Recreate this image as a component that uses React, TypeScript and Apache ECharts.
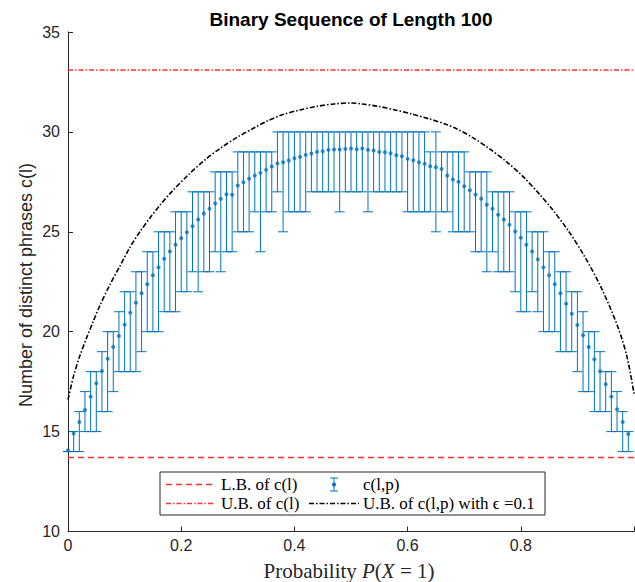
import React, { useEffect, useRef } from "react";
import * as echarts from "echarts";

// ---- data ----
const probabilities = [
  0, 0.01, 0.02, 0.03, 0.04, 0.05, 0.06, 0.07, 0.08, 0.09,
  0.1, 0.11, 0.12, 0.13, 0.14, 0.15, 0.16, 0.17, 0.18, 0.19,
  0.2, 0.21, 0.22, 0.23, 0.24, 0.25, 0.26, 0.27, 0.28, 0.29,
  0.3, 0.31, 0.32, 0.33, 0.34, 0.35, 0.36, 0.37, 0.38, 0.39,
  0.4, 0.41, 0.42, 0.43, 0.44, 0.45, 0.46, 0.47, 0.48, 0.49,
  0.5, 0.51, 0.52, 0.53, 0.54, 0.55, 0.56, 0.57, 0.58, 0.59,
  0.6, 0.61, 0.62, 0.63, 0.64, 0.65, 0.66, 0.67, 0.68, 0.69,
  0.7, 0.71, 0.72, 0.73, 0.74, 0.75, 0.76, 0.77, 0.78, 0.79,
  0.8, 0.81, 0.82, 0.83, 0.84, 0.85, 0.86, 0.87, 0.88, 0.89,
  0.9, 0.91, 0.92, 0.93, 0.94, 0.95, 0.96, 0.97, 0.98, 0.99,
];

const meanPhrases = [
  14.07, 14.9, 15.48, 16.08, 16.75, 17.42, 18.03, 18.65, 19.23, 19.78,
  20.35, 20.95, 21.45, 21.92, 22.38, 22.83, 23.22, 23.65, 24.02, 24.35,
  24.68, 24.98, 25.28, 25.62, 25.92, 26.15, 26.42, 26.65, 26.88, 26.85,
  27.32, 27.48, 27.66, 27.82, 27.95, 28.1, 28.27, 28.42, 28.48, 28.57,
  28.68, 28.75, 28.85, 28.92, 29.0, 29.03, 29.1, 29.12, 29.12, 29.15,
  29.17, 29.13, 29.17, 29.1, 29.07, 29.0, 28.98, 28.93, 28.83, 28.78,
  28.65, 28.58, 28.48, 28.4, 28.28, 28.23, 28.14, 27.82, 27.62, 27.5,
  27.28, 27.08, 26.87, 26.65, 26.35, 26.15, 25.85, 25.62, 25.35, 25.02,
  24.7, 24.35, 24.02, 23.62, 23.22, 22.82, 22.37, 21.92, 21.4, 20.9,
  20.33, 19.82, 19.23, 18.62, 18.02, 17.37, 16.75, 16.12, 15.48, 14.88,
];

const minPhrases = [
  14, 14, 14, 15, 15, 15, 16, 16, 17, 18,
  18, 18, 18, 19, 20, 20, 20, 21, 21, 21,
  22, 22, 23, 22, 23, 23, 24, 23, 24, 24,
  25, 25, 25, 26, 24, 26, 26, 27, 25, 26,
  26, 26, 26, 27, 27, 27, 27, 27, 26, 27,
  27, 27, 27, 26, 27, 27, 27, 27, 27, 27,
  26, 26, 26, 26, 26, 25, 26, 26, 25, 25,
  25, 25, 24, 24, 23, 24, 23, 23, 23, 22,
  21, 21, 22, 21, 20, 20, 20, 19, 19, 19,
  18, 17, 17, 16, 16, 16, 15, 15, 14, 14,
];

const maxPhrases = [
  14, 15, 16, 17, 18, 18, 19, 20, 20, 21,
  22, 22, 23, 23, 24, 24, 25, 25, 25, 26,
  26, 26, 27, 27, 27, 27, 28, 28, 28, 28,
  29, 29, 29, 29, 29, 29, 29, 30, 30, 30,
  30, 30, 30, 30, 30, 30, 30, 30, 30, 30,
  30, 30, 30, 30, 30, 30, 30, 30, 30, 30,
  30, 30, 30, 30, 29, 30, 29, 29, 29, 29,
  29, 28, 28, 28, 28, 27, 27, 27, 27, 26,
  26, 26, 25, 25, 25, 24, 24, 23, 23, 22,
  22, 21, 20, 20, 19, 18, 18, 17, 16, 15,
];

const boundP = [
  0, 0.01, 0.021, 0.033, 0.045, 0.057, 0.074, 0.092, 0.11, 0.127, 0.145,
  0.163, 0.183, 0.2125, 0.242, 0.27, 0.3, 0.33, 0.351, 0.38, 0.41, 0.44,
  0.47, 0.5, 0.519, 0.548, 0.578, 0.607, 0.637, 0.666, 0.687, 0.716, 0.745,
  0.775, 0.8045, 0.834, 0.855, 0.884, 0.913, 0.943, 0.972, 0.988, 1,
];
const boundEps = [
  16.6, 17.8, 18.8, 19.7, 20.55, 21.35, 22.35, 23.3, 24.25, 25.0, 25.7,
  26.35, 27.0, 27.85, 28.6, 29.2, 29.75, 30.22, 30.53, 30.87, 31.1, 31.28,
  31.4, 31.45, 31.4, 31.28, 31.1, 30.9, 30.66, 30.4, 30.15, 29.7, 29.15,
  28.5, 27.75, 26.85, 26.15, 25.05, 23.75, 22.15, 20.2, 18.7, 16.9,
];

const lowerBound = 13.7;
const upperBound = 33.1;

const xTicks = [0, 0.2, 0.4, 0.6, 0.8, 1];
const xTickLabels = ["0", "0.2", "0.4", "0.6", "0.8", ""];

const titleText = "Binary Sequence of Length 100";
const yName = "Number of distinct phrases c(l)";
const xNameRich = "{n|Probability }{i|P}{n|(}{i|X}{n| = 1)}";
const legendLabels = [
  "L.B. of c(l)",
  "c(l,p)",
  "U.B. of c(l)",
  "U.B. of c(l,p) with \u03f5 =0.1",
];

const BLUE = "#0072BD";
const RED = "#ff3030";
const AXIS = "#262626";
const SANS = "'Liberation Sans', Arial, Helvetica, sans-serif";
const SERIF = "'Liberation Serif', 'DejaVu Serif', 'Times New Roman', serif";

export default function App() {
  const ref = useRef<HTMLDivElement>(null);

  useEffect(() => {
    if (!ref.current) return;
    const chart = echarts.init(ref.current, null, { renderer: "svg" });

    const errData = probabilities.map((p, i) => [p, minPhrases[i], maxPhrases[i]]);
    const meanData = probabilities.map((p, i) => [p, meanPhrases[i]]);
    const curveData = boundP.map((p, i) => [p, boundEps[i]]);

    const capHalf = 5;

    const legendX = 160;
    const legendY = 472;
    const legendW = 385;
    const legendH = 43;
    const r1 = 484.5;
    const r2 = 503.5;
    const legFont = 17;

    const option: any = {
      animation: false,
      grid: {
        left: 68,
        right: 1,
        top: 32,
        bottom: 50.5,
        containLabel: false,
        outerBoundsMode: "none",
      },
      xAxis: {
        type: "value",
        min: 0,
        max: 1,
        interval: 0.2,
        axisLine: { show: true, onZero: false, lineStyle: { color: AXIS, width: 1 } },
        axisTick: { show: true, inside: true, length: 5, lineStyle: { color: AXIS } },
        axisLabel: {
          fontFamily: SANS,
          fontSize: 16,
          color: AXIS,
          margin: 6,
          formatter: (v: number) => {
            const idx = xTicks.findIndex((t) => Math.abs(t - v) < 1e-6);
            return idx >= 0 ? xTickLabels[idx] : "";
          },
        },
        splitLine: { show: false },
      },
      yAxis: {
        type: "value",
        min: 10,
        max: 35,
        interval: 5,
        axisLine: { show: true, lineStyle: { color: AXIS, width: 1 } },
        axisTick: { show: true, inside: true, length: 5, lineStyle: { color: AXIS } },
        axisLabel: { fontFamily: SANS, fontSize: 16, color: AXIS, margin: 8 },
        splitLine: { show: false },
      },
      series: [
        {
          type: "line",
          data: [[0, lowerBound], [1, lowerBound]],
          symbol: "none",
          lineStyle: { color: RED, width: 1.5, type: [6, 4] },
          z: 2,
        },
        {
          type: "line",
          data: [[0, upperBound], [1, upperBound]],
          symbol: "none",
          lineStyle: { color: RED, width: 1.5, type: [5, 2, 1.5, 2] },
          z: 2,
        },
        {
          type: "custom",
          data: errData,
          renderItem: (params: any, api: any) => {
            const x = api.value(0);
            const lo = api.coord([x, api.value(1)]);
            const hi = api.coord([x, api.value(2)]);
            const st = { stroke: BLUE, lineWidth: 1 };
            return {
              type: "group",
              children: [
                { type: "line", shape: { x1: lo[0], y1: lo[1], x2: hi[0], y2: hi[1] }, style: st },
                { type: "line", shape: { x1: lo[0] - capHalf, y1: lo[1], x2: lo[0] + capHalf, y2: lo[1] }, style: st },
                { type: "line", shape: { x1: hi[0] - capHalf, y1: hi[1], x2: hi[0] + capHalf, y2: hi[1] }, style: st },
              ],
            };
          },
          z: 3,
        },
        {
          type: "scatter",
          data: meanData,
          symbol: "circle",
          symbolSize: 4,
          itemStyle: { color: BLUE },
          z: 4,
        },
        {
          type: "line",
          data: curveData,
          symbol: "none",
          smooth: 0.3,
          lineStyle: { color: "#000000", width: 1.6, type: [5, 2, 1.5, 2] },
          z: 5,
        },
      ],
      graphic: [
        {
          type: "text",
          x: 351,
          y: 19,
          style: {
            text: titleText,
            fontFamily: SANS,
            fontSize: 19,
            fontWeight: "bold",
            fill: "#000",
            align: "center",
            verticalAlign: "middle",
          },
        },
        {
          type: "text",
          x: 349,
          y: 571,
          style: {
            text: xNameRich,
            align: "center",
            verticalAlign: "middle",
            rich: {
              n: { fontFamily: SERIF, fontSize: 21, fill: AXIS },
              i: { fontFamily: SERIF, fontSize: 21, fontStyle: "italic", fill: AXIS },
            },
          },
        },
        {
          type: "text",
          x: 26,
          y: 285,
          rotation: Math.PI / 2,
          style: {
            text: yName,
            fontFamily: SANS,
            fontSize: 18,
            fill: AXIS,
            align: "center",
            verticalAlign: "middle",
          },
        },
        {
          type: "rect",
          shape: { x: legendX, y: legendY, width: legendW, height: legendH },
          style: { fill: "#fff", stroke: AXIS, lineWidth: 1 },
          z: 10,
        },
        {
          type: "line",
          shape: { x1: 166, y1: r1, x2: 213, y2: r1 },
          style: { stroke: RED, lineWidth: 1.5, lineDash: [6, 4] },
          z: 11,
        },
        {
          type: "text",
          x: 221,
          y: r1,
          style: { text: legendLabels[0], fontFamily: SERIF, fontSize: legFont, fill: "#000", verticalAlign: "middle" },
          z: 11,
        },
        {
          type: "line",
          shape: { x1: 334, y1: 478, x2: 334, y2: 491 },
          style: { stroke: BLUE, lineWidth: 1 },
          z: 11,
        },
        {
          type: "line",
          shape: { x1: 330, y1: 478, x2: 338, y2: 478 },
          style: { stroke: BLUE, lineWidth: 1 },
          z: 11,
        },
        {
          type: "line",
          shape: { x1: 330, y1: 491, x2: 338, y2: 491 },
          style: { stroke: BLUE, lineWidth: 1 },
          z: 11,
        },
        {
          type: "circle",
          shape: { cx: 334, cy: 484.5, r: 2 },
          style: { fill: BLUE },
          z: 11,
        },
        {
          type: "text",
          x: 363,
          y: r1,
          style: { text: legendLabels[1], fontFamily: SERIF, fontSize: legFont, fill: "#000", verticalAlign: "middle" },
          z: 11,
        },
        {
          type: "line",
          shape: { x1: 166, y1: r2, x2: 213, y2: r2 },
          style: { stroke: RED, lineWidth: 1.5, lineDash: [5, 2, 1.5, 2] },
          z: 11,
        },
        {
          type: "text",
          x: 221,
          y: r2,
          style: { text: legendLabels[2], fontFamily: SERIF, fontSize: legFont, fill: "#000", verticalAlign: "middle" },
          z: 11,
        },
        {
          type: "line",
          shape: { x1: 309, y1: r2, x2: 359, y2: r2 },
          style: { stroke: "#000", lineWidth: 1.6, lineDash: [5, 2, 1.5, 2] },
          z: 11,
        },
        {
          type: "text",
          x: 363,
          y: r2,
          style: { text: legendLabels[3], fontFamily: SERIF, fontSize: legFont, fill: "#000", verticalAlign: "middle" },
          z: 11,
        },
      ],
    };

    chart.setOption(option);
    return () => chart.dispose();
  }, []);

  return (
    <div
      ref={ref}
      style={{ position: "absolute", left: 0, top: 0, width: 635, height: 582, background: "#fff" }}
    />
  );
}
